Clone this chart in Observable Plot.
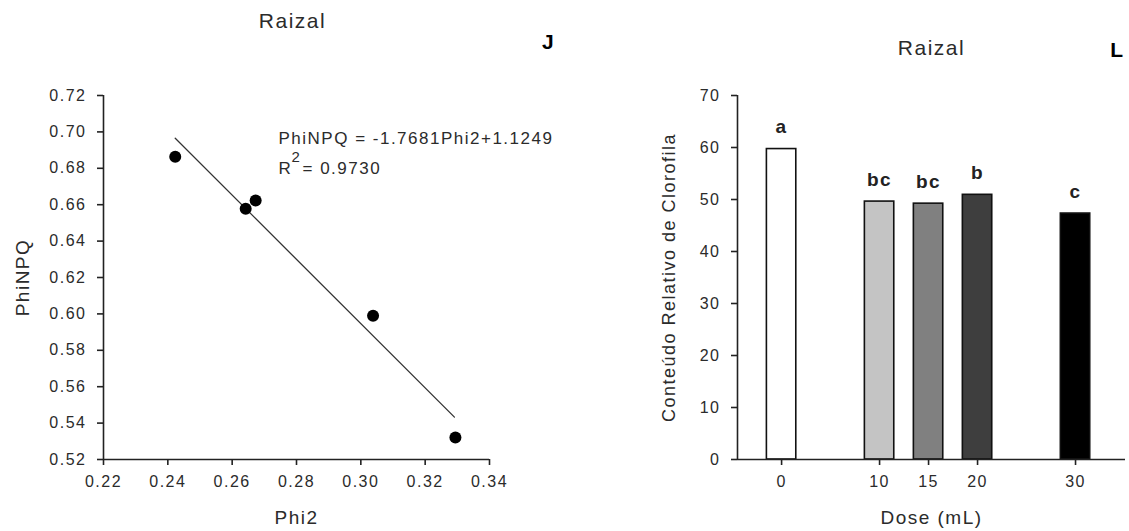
<!DOCTYPE html>
<html><head><meta charset="utf-8">
<script src="https://cdn.jsdelivr.net/npm/d3@7"></script>
<script src="https://cdn.jsdelivr.net/npm/@observablehq/plot@0.6"></script>
<style>
body{margin:0;background:#fff;}
#wrap{position:relative;width:1129px;height:531px;overflow:hidden;background:#fff}
#left,#right{position:absolute;top:0}
#left{left:0}
#right{left:564px}
</style></head><body><div id="wrap"><div id="left"></div><div id="right"></div></div>
<script>
// ---- Panel J (left): PhiNPQ vs Phi2 ----
const phi2 = [0.2423, 0.2642, 0.2673, 0.3038, 0.3294];
const phiNPQ = [0.6864, 0.6578, 0.6623, 0.5990, 0.5321];
const fitPhi2 = [0.2423, 0.3291];
const fitPhiNPQ = [0.6965, 0.5433];
const xDomainL = [0.22, 0.34];
const yDomainL = [0.52, 0.72];
const xTicksL = [0.22, 0.24, 0.26, 0.28, 0.30, 0.32, 0.34];
const yTicksL = [0.52, 0.54, 0.56, 0.58, 0.60, 0.62, 0.64, 0.66, 0.68, 0.70, 0.72];
const equationText = "PhiNPQ = -1.7681Phi2+1.1249";
const r2Label = "R";
const r2Sup = "2";
const r2Value = "= 0.9730";
const titleL = "Raizal";
const panelL = "J";
const xLabelL = "Phi2";
const yLabelL = "PhiNPQ";

// ---- Panel L (right): chlorophyll by dose ----
const doses = [0, 10, 15, 20, 30];
const chlorophyll = [59.7, 49.6, 49.2, 50.9, 47.3];
const letters = ["a", "bc", "bc", "b", "c"];
const barFills = ["#ffffff", "#c4c4c4", "#808080", "#3e3e3e", "#000000"];
const xDomainR = [-4.5, 35.1];
const yDomainR = [0, 70];
const yTicksR = [0, 10, 20, 30, 40, 50, 60, 70];
const titleR = "Raizal";
const panelR = "L";
const xLabelR = "Dose (mL)";
const yLabelR = "Conteúdo Relativo de Clorofila";

const points = phi2.map((x, i) => ({x, y: phiNPQ[i]}));
const fit = fitPhi2.map((x, i) => ({x, y: fitPhiNPQ[i]}));
const bars = doses.map((d, i) => ({dose: d, v: chlorophyll[i], letter: letters[i], fill: barFills[i]}));

const ink = "#222";
const txt = "#2b2b2b";
const baseStyle = "font-family: Arial, 'Liberation Sans', sans-serif; font-size:16px; letter-spacing:1.5px; color:#2b2b2b; background:#fff; overflow:visible";

const left = Plot.plot({
  width: 564, height: 531,
  marginLeft: 103, marginRight: 75, marginTop: 95, marginBottom: 72,
  style: baseStyle,
  x: {domain: xDomainL},
  y: {domain: yDomainL},
  marks: [
    Plot.ruleX([xDomainL[0]], {stroke: ink, strokeWidth: 1.6}),
    Plot.ruleY([yDomainL[0]], {stroke: ink, strokeWidth: 1.6}),
    Plot.axisX({ticks: xTicksL, tickFormat: d3.format(".2f"), tickSize: 6, tickPadding: 10, label: null, stroke: ink, strokeWidth: 1.6, fill: txt, fontSize: 16}),
    Plot.axisY({ticks: yTicksL, tickFormat: d3.format(".2f"), tickSize: 6, tickPadding: 11, label: null, stroke: ink, strokeWidth: 1.6, fill: txt, fontSize: 16}),
    Plot.line(fit, {x: "x", y: "y", stroke: "#333", strokeWidth: 1.3}),
    Plot.dot(points, {x: "x", y: "y", r: 6, fill: "#000", stroke: "none"}),
    Plot.text([equationText], {frameAnchor: "top-left", dx: 175, dy: 43, textAnchor: "start", lineAnchor: "middle", fontSize: 17, letterSpacing: 1.2, fill: txt}),
    Plot.text([r2Label], {frameAnchor: "top-left", dx: 175, dy: 73, textAnchor: "start", lineAnchor: "middle", fontSize: 17, fill: txt}),
    Plot.text([r2Sup], {frameAnchor: "top-left", dx: 188, dy: 62, textAnchor: "start", lineAnchor: "middle", fontSize: 15, fill: txt}),
    Plot.text([r2Value], {frameAnchor: "top-left", dx: 199, dy: 73, textAnchor: "start", lineAnchor: "middle", fontSize: 17, fill: txt}),
    Plot.text([titleL], {frameAnchor: "top", dx: -4, dy: -74, textAnchor: "middle", lineAnchor: "middle", fontSize: 21, fill: txt}),
    Plot.text([panelL], {frameAnchor: "top-right", dx: 59, dy: -53, textAnchor: "middle", lineAnchor: "middle", fontSize: 21, fontWeight: "bold", fill: "#000"}),
    Plot.text([xLabelL], {frameAnchor: "bottom", dy: 58, textAnchor: "middle", lineAnchor: "middle", fontSize: 19, fill: txt}),
    Plot.text([yLabelL], {frameAnchor: "left", dx: -81, rotate: -90, textAnchor: "middle", lineAnchor: "middle", fontSize: 19, fill: txt})
  ]
});
document.getElementById("left").appendChild(left);

const right = Plot.plot({
  width: 565, height: 531,
  marginLeft: 173, marginRight: 4, marginTop: 95, marginBottom: 72,
  style: baseStyle,
  x: {domain: xDomainR},
  y: {domain: yDomainR},
  color: {type: "identity"},
  marks: [
    Plot.rectY(bars, {x1: d => d.dose - 1.5, x2: d => d.dose + 1.5, y1: 0, y2: "v", fill: "fill", stroke: "#111", strokeWidth: 1.6}),
    Plot.ruleX([xDomainR[0]], {stroke: ink, strokeWidth: 1.6}),
    Plot.ruleY([yDomainR[0]], {stroke: ink, strokeWidth: 1.6}),
    Plot.axisX({ticks: doses, tickSize: 6, tickPadding: 10, label: null, stroke: ink, strokeWidth: 1.6, fill: txt, fontSize: 16}),
    Plot.axisY({ticks: yTicksR, tickSize: 6, tickPadding: 11, label: null, stroke: ink, strokeWidth: 1.6, fill: txt, fontSize: 16}),
    Plot.text(bars, {x: "dose", y: "v", text: "letter", dy: -22, lineAnchor: "middle", fontSize: 19, fontWeight: "bold", fill: "#222"}),
    Plot.text([titleR], {frameAnchor: "top", dx: 0, dy: -47, textAnchor: "middle", lineAnchor: "middle", fontSize: 21, fill: txt}),
    Plot.text([panelR], {frameAnchor: "top-right", dx: -8, dy: -45, textAnchor: "middle", lineAnchor: "middle", fontSize: 21, fontWeight: "bold", fill: "#000"}),
    Plot.text([xLabelR], {frameAnchor: "bottom", dy: 58, textAnchor: "middle", lineAnchor: "middle", fontSize: 19, fill: txt}),
    Plot.text([yLabelR], {frameAnchor: "left", dx: -68, rotate: -90, textAnchor: "middle", lineAnchor: "middle", fontSize: 18, letterSpacing: 0.8, fill: txt})
  ]
});
document.getElementById("right").appendChild(right);
</script>
</body></html>
